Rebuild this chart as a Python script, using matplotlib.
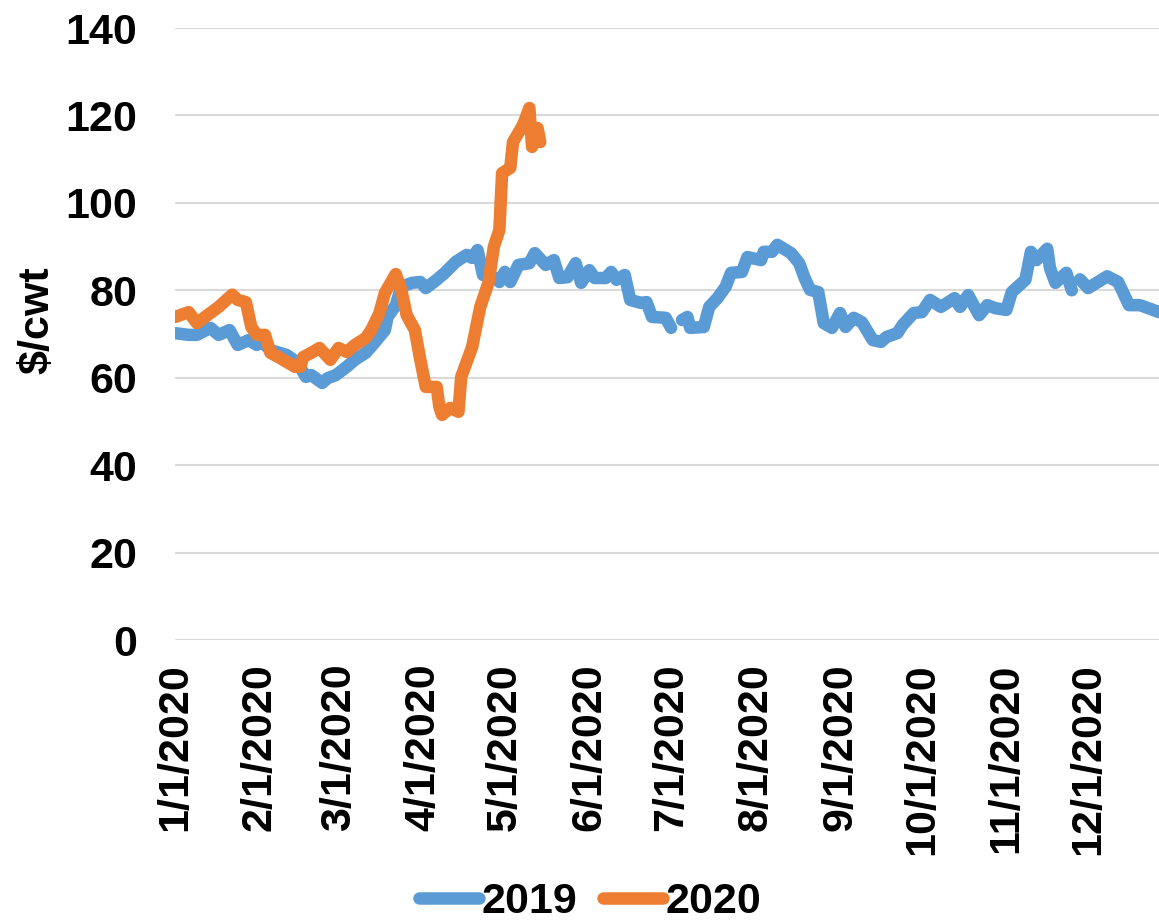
"""Daily $/cwt price: 2019 vs 2020, plotted on a 2020 calendar axis."""

import matplotlib
matplotlib.use('Agg')
import matplotlib.pyplot as plt
import matplotlib.dates as mdates
import numpy as np
import pandas as pd

plt.rcParams['font.family'] = 'Liberation Sans'
plt.rcParams['font.weight'] = 'bold'

# 2019 series (drawn on the 2020 calendar), NaN = gap in the data
dates_2019 = [
    '01-01', '01-06', '01-09', '01-14', '01-17', '01-21', '01-24', '01-28', '01-31',
    '02-02', '02-05', '02-11', '02-15', '02-18', '02-20', '02-24', '02-26', '02-29',
    '03-04', '03-07', '03-11', '03-15', '03-18', '03-19', '03-22', '03-24', '03-28',
    '03-31', '04-02', '04-06', '04-09', '04-13', '04-17', '04-19', '04-21', '04-23',
    '04-28', '04-29', '05-01', '05-03', '05-06', '05-10', '05-12', '05-16', '05-19',
    '05-21', '05-24', '05-27', '05-29', '06-01', '06-03', '06-07', '06-09', '06-11',
    '06-14', '06-16', '06-20', '06-22', '06-24', '06-29', '07-01', '07-03', '07-05',
    '07-07', '07-08', '07-13', '07-15', '07-18', '07-21', '07-23', '07-27', '07-29',
    '08-03', '08-04', '08-07', '08-09', '08-14', '08-17', '08-19', '08-21', '08-24',
    '08-26', '08-29', '09-01', '09-03', '09-06', '09-09', '09-13', '09-16', '09-18',
    '09-22', '09-24', '09-28', '10-01', '10-04', '10-08', '10-13', '10-15', '10-18',
    '10-22', '10-25', '10-28', '11-01', '11-03', '11-08', '11-10', '11-12', '11-16',
    '11-17', '11-19', '11-23', '11-25', '11-27', '11-28', '12-01', '12-08', '12-12',
    '12-16', '12-20', '12-24', '12-27',
]
price_2019 = [
    70.2, 69.8, 69.8, 71.4, 69.8, 70.9, 67.5, 68.6, 67.5,
    68.2, 66.3, 65.2, 63.4, 60.2, 60.6, 58.8, 59.9, 60.6,
    62.5, 64.1, 65.7, 68.6, 70.9, 73.9, 76.6, 80.8, 81.7,
    81.9, 80.5, 82.4, 84.0, 86.5, 88.1, 87.4, 89.2, 83.5,
    82.8, 81.9, 84.2, 81.9, 85.8, 86.2, 88.5, 85.8, 86.9,
    82.8, 83.0, 86.2, 81.7, 84.6, 82.8, 82.8, 84.2, 82.4,
    83.5, 77.8, 77.1, 77.3, 73.9, 73.7, 71.4, np.nan, 73.2,
    73.9, 71.4, 71.6, 76.2, 78.2, 80.8, 84.0, 84.2, 87.6,
    86.9, 88.8, 88.8, 90.4, 88.5, 86.2, 82.8, 80.1, 79.6,
    72.5, 71.4, 74.8, 71.6, 73.7, 72.7, 68.6, 68.2, 69.3,
    70.2, 72.1, 74.8, 75.0, 77.8, 76.2, 78.2, 76.2, 78.9,
    74.3, 76.6, 75.9, 75.5, 79.6, 82.4, 88.8, 86.9, 89.5,
    85.1, 81.7, 84.0, 80.0, np.nan, 82.5, 80.5, 83.2, 81.9,
    76.6, 76.6, 75.7, 75.0,
]

dates_2020 = [
    '01-01', '01-06', '01-09', '01-14', '01-17', '01-22', '01-24', '01-27', '01-29',
    '01-31', '02-03', '02-05', '02-08', '02-11', '02-14', '02-16', '02-17', '02-20',
    '02-23', '02-27', '03-01', '03-04', '03-07', '03-11', '03-13', '03-16', '03-18',
    '03-22', '03-24', '03-26', '03-29', '03-31', '04-02', '04-06', '04-07', '04-08',
    '04-11', '04-14', '04-15', '04-19', '04-22', '04-25', '04-27', '04-29', '04-30',
    '05-03', '05-04', '05-07', '05-08', '05-10', '05-11', '05-13', '05-14',
]
price_2020 = [
    73.9, 75.0, 72.5, 74.8, 76.2, 79.0, 77.8, 77.3, 71.6,
    69.8, 69.8, 65.7, 64.7, 63.6, 62.5, 62.5, 64.7, 65.7,
    66.8, 64.1, 66.8, 65.9, 67.5, 69.1, 70.9, 74.8, 79.4,
    83.7, 80.1, 74.3, 70.9, 64.1, 57.9, 57.9, 53.3, 51.5,
    53.1, 52.2, 60.2, 67.0, 76.2, 81.7, 90.0, 93.8, 106.8,
    108.0, 113.9, 117.1, 118.3, 121.7, 112.8, 117.1, 113.9,
]

series_labels = ['2019', '2020']
series_colors = ['#5B9BD5', '#ED7D31']
y_ticks = [0, 20, 40, 60, 80, 100, 120, 140]


def to_dates(days):
    return pd.to_datetime(['2020-' + d for d in days])


fig = plt.figure(figsize=(11.59, 9.22), dpi=100)
ax = fig.add_axes([175 / 1159, 1 - 640 / 922, 1 - 175 / 1159, 612 / 922])

for days, vals, lab, col in zip([dates_2019, dates_2020], [price_2019, price_2020],
                                series_labels, series_colors):
    ax.plot(to_dates(days), vals, color=col, lw=9, label=lab,
            solid_joinstyle='round', solid_capstyle='round')

ax.set_ylim(0, 140)
ax.set_yticks(y_ticks)
ax.set_xlim(pd.Timestamp('2020-01-01'), pd.Timestamp('2020-12-27'))
ax.set_xticks(pd.date_range('2020-01-01', '2020-12-01', freq='MS'))
ax.xaxis.set_major_formatter(mdates.DateFormatter('%-m/%-d/%Y'))

ax.grid(axis='y', color='#D9D9D9', lw=1.5)
ax.set_axisbelow(True)
for s in ax.spines.values():
    s.set_visible(False)

ax.tick_params(axis='y', length=0, pad=27, labelsize=31)
ax.tick_params(axis='x', length=0, pad=17, labelsize=31, labelrotation=90)
for t in ax.get_xticklabels() + ax.get_yticklabels():
    t.set_fontweight('bold')

fig.text(37 / 1159, 1 - 320 / 922, '$/cwt', rotation=90, ha='center', va='center',
         fontsize=31, fontweight='bold')

fig.legend(loc='center', bbox_to_anchor=(590 / 1159, 1 - 902 / 922), ncol=2,
           frameon=False, handlelength=1.4, handletextpad=0.05, columnspacing=0.6,
           prop={'size': 31, 'weight': 'bold'})

plt.savefig('out.png', dpi=100)
